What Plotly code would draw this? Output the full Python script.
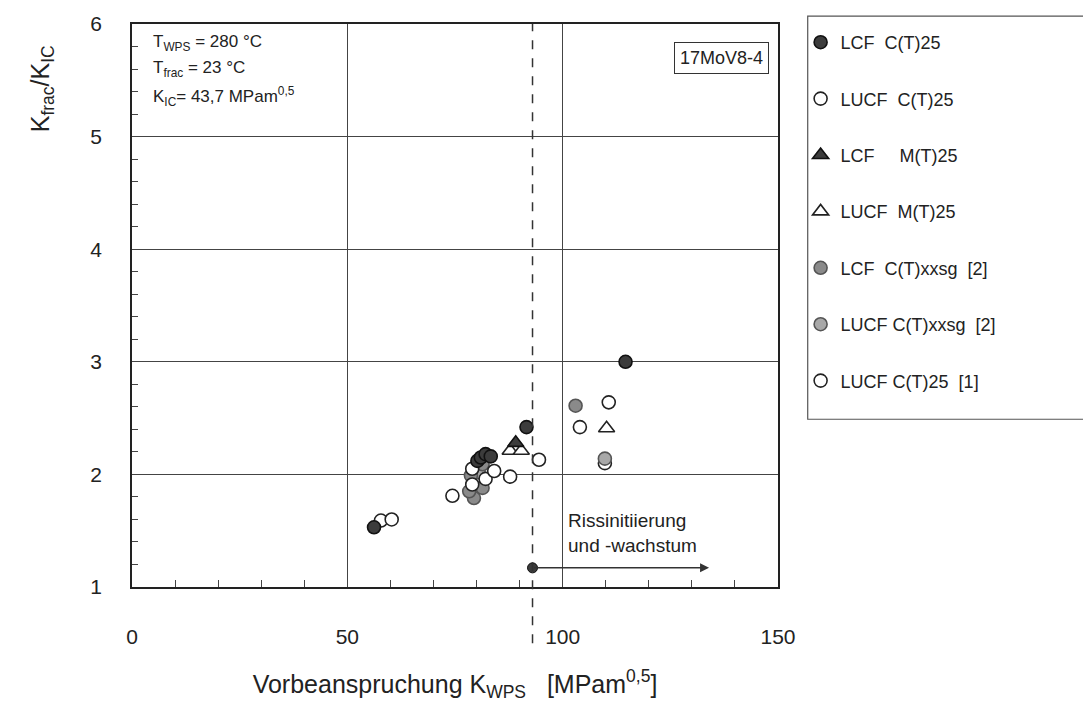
import plotly.graph_objects as go

# ---- data ----
lcf_ct25_x = [56.2, 80.2, 81.0, 82.1, 83.3, 91.6, 114.6]
lcf_ct25_y = [1.53, 2.12, 2.15, 2.18, 2.16, 2.42, 3.00]

lucf_ct25_x = [57.8, 60.3, 74.4, 79.0, 79.0, 82.1, 84.1, 87.8, 94.5]
lucf_ct25_y = [1.59, 1.60, 1.81, 2.05, 1.91, 1.96, 2.03, 1.98, 2.13]

lcf_mt25_x = [89.1]
lcf_mt25_y = [2.28]

lucf_mt25_x = [87.8, 90.4, 110.2]
lucf_mt25_y = [2.21, 2.21, 2.41]

lcf_xxsg_x = [103.0, 78.7, 79.4, 78.3, 81.4, 81.4]
lcf_xxsg_y = [2.61, 1.99, 1.79, 1.85, 1.88, 2.09]

lucf_xxsg_x = [109.8, 80.5]
lucf_xxsg_y = [2.14, 2.02]

lucf_ct25_1_x = [104.0, 110.7, 109.8]
lucf_ct25_1_y = [2.42, 2.64, 2.10]

k_wps_limit = 93.0
arrow_y = 1.17
arrow_end_x = 134.0

names = ["LCF\u00a0\u00a0C(T)25", "LUCF\u00a0\u00a0C(T)25", "LCF\u00a0\u00a0\u00a0\u00a0\u00a0M(T)25",
         "LUCF\u00a0\u00a0M(T)25", "LCF\u00a0\u00a0C(T)xxsg\u00a0\u00a0[2]",
         "LUCF\u00a0C(T)xxsg\u00a0\u00a0[2]", "LUCF\u00a0C(T)25\u00a0\u00a0[1]"]

dark = "#3c3c3c"
gray = "#8a8a8a"
lgray = "#a8a8a8"
FONT = "Liberation Sans, Arial, sans-serif"

fig = go.Figure()

series = [
    (lucf_ct25_1_x, lucf_ct25_1_y, names[6], "circle", "white", "#222", 13),
    (lucf_xxsg_x, lucf_xxsg_y, names[5], "circle", lgray, "#555", 13),
    (lcf_xxsg_x, lcf_xxsg_y, names[4], "circle", gray, "#555", 13),
    (lucf_ct25_x, lucf_ct25_y, names[1], "circle", "white", "#222", 13),
    (lcf_ct25_x, lcf_ct25_y, names[0], "circle", dark, "#111", 13),
    (lucf_mt25_x, lucf_mt25_y, names[3], "triangle-up", "white", "#222", 14),
    (lcf_mt25_x, lcf_mt25_y, names[2], "triangle-up", dark, "#111", 14),
]
order = {n: i for i, n in enumerate(names)}
for xs, ys, nm, sym, fc, lc, sz in series:
    fig.add_trace(go.Scatter(
        x=xs, y=ys, mode="markers", name=nm,
        legendgroup=nm, legendrank=order[nm] + 1,
        marker=dict(symbol=sym, size=sz, color=fc, line=dict(color=lc, width=1.6)),
    ))

# arrow start marker
fig.add_trace(go.Scatter(x=[k_wps_limit], y=[arrow_y], mode="markers", showlegend=False,
                         marker=dict(size=10, color=dark, line=dict(color="#111", width=1)),
                         cliponaxis=False))

# dashed vertical line
fig.add_shape(type="line", xref="x", yref="paper", x0=k_wps_limit, x1=k_wps_limit,
              y0=-0.10, y1=1.0, line=dict(color="#333", width=1.5, dash="dash"))

# legend frame
fig.add_shape(type="rect", xref="paper", yref="paper", x0=1.046, x1=1.6, y0=0.298, y1=1.014,
              line=dict(color="#555", width=1.2), fillcolor="rgba(0,0,0,0)")

# arrow
fig.add_annotation(x=arrow_end_x, y=arrow_y, ax=k_wps_limit, ay=arrow_y, axref="x", ayref="y",
                   xref="x", yref="y", text="", showarrow=True, arrowhead=2, arrowsize=1.2,
                   arrowwidth=1.5, arrowcolor="#333")

fig.add_annotation(x=0.672, y=0.096, xref="paper", yref="paper", xanchor="left", yanchor="middle",
                   text="Rissinitiierung<br>und -wachstum", showarrow=False, align="left",
                   font=dict(family=FONT, size=19, color="#222"))

fig.add_annotation(x=0.03, y=0.966, xref="paper", yref="paper", xanchor="left", yanchor="middle",
                   text="T<sub>WPS</sub> = 280 °C", showarrow=False,
                   font=dict(family=FONT, size=17, color="#222"))
fig.add_annotation(x=0.03, y=0.920, xref="paper", yref="paper", xanchor="left", yanchor="middle",
                   text="T<sub>frac</sub> = 23 °C", showarrow=False,
                   font=dict(family=FONT, size=17, color="#222"))
fig.add_annotation(x=0.03, y=0.872, xref="paper", yref="paper", xanchor="left", yanchor="middle",
                   text="K<sub>IC</sub>= 43,7 MPam<sup>0,5</sup>", showarrow=False,
                   font=dict(family=FONT, size=17, color="#222"))

fig.add_annotation(x=0.912, y=0.94, xref="paper", yref="paper", xanchor="center", yanchor="middle",
                   text="17MoV8-4", showarrow=False, bordercolor="#333", borderwidth=1,
                   borderpad=5, bgcolor="white", font=dict(family=FONT, size=18, color="#222"))

# y title placed at top-left
fig.add_annotation(x=-0.14, y=0.885, xref="paper", yref="paper", xanchor="center", yanchor="middle",
                   text="K<sub>frac</sub>/K<sub>IC</sub>", textangle=-90, showarrow=False,
                   font=dict(family=FONT, size=25, color="#222"))

fig.update_layout(
    width=1091, height=716,
    margin=dict(l=124, r=321, t=16, b=137, autoexpand=False),
    paper_bgcolor="white", plot_bgcolor="white",
    font=dict(family=FONT, color="#222"),
    showlegend=True,
    legend=dict(x=1.035, y=1.0, xanchor="left", yanchor="top", bgcolor="rgba(0,0,0,0)",
                borderwidth=0, tracegroupgap=30, font=dict(family=FONT, size=18, color="#222"),
                itemwidth=30, traceorder="grouped"),
    xaxis=dict(range=[0, 150], dtick=50, showgrid=True, gridcolor="#444", gridwidth=1,
               showline=True, linecolor="#222", linewidth=1.6, mirror=True, zeroline=False,
               automargin=False,
               ticks="", ticklabelstandoff=30, tickfont=dict(family=FONT, size=21, color="#222"),
               minor=dict(dtick=10, ticks="inside", ticklen=7, tickcolor="#444", showgrid=False),
               title=dict(text="Vorbeanspruchung K<sub>WPS</sub>\u00a0\u00a0\u00a0[MPam<sup>0,5</sup>]",
                          font=dict(family=FONT, size=25, color="#222"), standoff=28)),
    yaxis=dict(range=[1, 6], dtick=1, showgrid=True, gridcolor="#444", gridwidth=1,
               showline=True, linecolor="#222", linewidth=1.6, mirror=True, zeroline=False,
               automargin=False,
               ticks="", ticklabelstandoff=24, tickfont=dict(family=FONT, size=21, color="#222"),
               minor=dict(dtick=0.2, ticks="inside", ticklen=6, tickcolor="#444", showgrid=False)),
)

fig.write_html("out.html")
